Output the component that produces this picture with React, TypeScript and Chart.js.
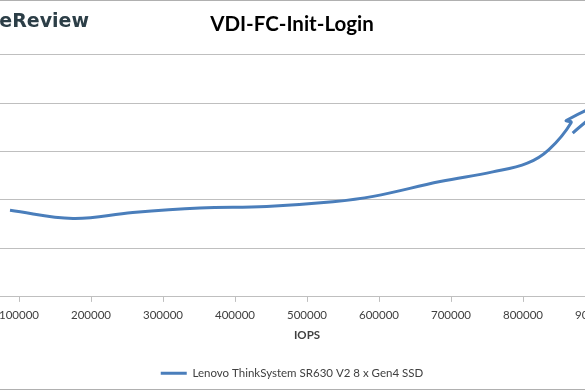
import React, { useEffect, useRef } from 'react';
import { Chart, registerables } from 'chart.js';

Chart.register(...registerables);

const chartTitle = 'VDI-FC-Init-Login';
const xAxisTitle = 'IOPS';
const seriesName = 'Lenovo ThinkSystem SR630 V2 8 x Gen4 SSD';
const logoText = 'StorageReview';

// IOPS (x) and average latency in ms (y)
const iops = [87500, 175000, 258000, 351000, 444000, 536000, 592000, 685000, 758000, 806000, 836000, 867000, 860000, 915000, 869000];
const latencyMs = [0.893, 0.81, 0.872, 0.918, 0.934, 0.982, 1.037, 1.19, 1.29, 1.38, 1.52, 1.8, 1.82, 2.0, 1.69];

const xTickValues = [100000, 200000, 300000, 400000, 500000, 600000, 700000, 800000, 900000];
const xMin = 0;
const xMax = 1000000;
const yMin = 0;
const yMax = 2.5;
const yStep = 0.5;

const FONT = 'Lato, "Liberation Sans", sans-serif';

export default function App() {
  const ref = useRef<HTMLCanvasElement>(null);

  useEffect(() => {
    const canvas = ref.current;
    if (!canvas) return;
    const chart = new Chart(canvas, {
      type: 'scatter',
      data: {
        datasets: [
          {
            label: seriesName,
            data: iops.map((x, i) => ({ x, y: latencyMs[i] })),
            showLine: true,
            borderColor: '#4a7ebb',
            backgroundColor: '#4a7ebb',
            borderWidth: 3,
            pointRadius: 0,
            pointHoverRadius: 0,
            tension: 0.4,
          } as any,
        ],
      },
      options: {
        animation: false,
        responsive: false,
        maintainAspectRatio: false,
        layout: { padding: { left: 0, right: 0, top: 0, bottom: 1 } },
        plugins: {
          title: {
            display: true,
            text: chartTitle,
            color: '#000000',
            font: { family: FONT, size: 20.5, weight: 'bold' },
            padding: { top: 12.5, bottom: 17.5 },
          },
          legend: {
            position: 'bottom',
            labels: {
              usePointStyle: true,
              pointStyle: 'line',
              pointStyleWidth: 26,
              color: '#404040',
              font: { family: FONT, size: 11.5 },
              padding: 10,
            },
          },
          tooltip: { enabled: false },
        },
        scales: {
          x: {
            type: 'linear',
            min: xMin,
            max: xMax,
            afterBuildTicks: (scale: any) => {
              scale.ticks = xTickValues.map((v) => ({ value: v }));
            },
            ticks: {
              autoSkip: false,
              maxRotation: 0,
              padding: 6,
              color: '#404040',
              font: { family: FONT, size: 11.5 },
              callback: (v: any) => String(v),
            },
            grid: { drawOnChartArea: false, drawTicks: true, tickLength: 5, color: '#bfbfbf' },
            border: { color: '#bfbfbf' },
            title: {
              display: true,
              text: xAxisTitle,
              color: '#404040',
              font: { family: FONT, size: 11.5, weight: 'bold' },
              padding: { top: 0.5, bottom: 15.5 },
            },
          },
          y: {
            min: yMin,
            max: yMax,
            ticks: { display: false, stepSize: yStep },
            grid: { color: '#bfbfbf', drawTicks: false },
            border: { display: false },
            afterFit: (scale: any) => {
              scale.width = 30;
            },
          },
        },
      },
    });
    return () => chart.destroy();
  }, []);

  return (
    <div
      style={{
        position: 'fixed',
        left: 0,
        top: 0,
        width: 585,
        height: 390,
        overflow: 'hidden',
        background: '#ffffff',
      }}
    >
      <canvas
        ref={ref}
        width={750}
        height={390}
        style={{ position: 'absolute', left: -83, top: 0, width: 750, height: 390 }}
      />
      <div
        style={{
          position: 'absolute',
          right: 585 - 89,
          top: 10,
          fontFamily: '"DejaVu Sans", sans-serif',
          fontWeight: 'bold',
          fontSize: 19,
          lineHeight: '20px',
          color: '#2c3e47',
          whiteSpace: 'nowrap',
        }}
      >
        {logoText}
      </div>
      <div style={{ position: 'absolute', left: 0, top: 0, width: 585, height: 1, background: '#b0b0b0' }} />
      <div style={{ position: 'absolute', left: 0, top: 389, width: 585, height: 1, background: '#b0b0b0' }} />
    </div>
  );
}
